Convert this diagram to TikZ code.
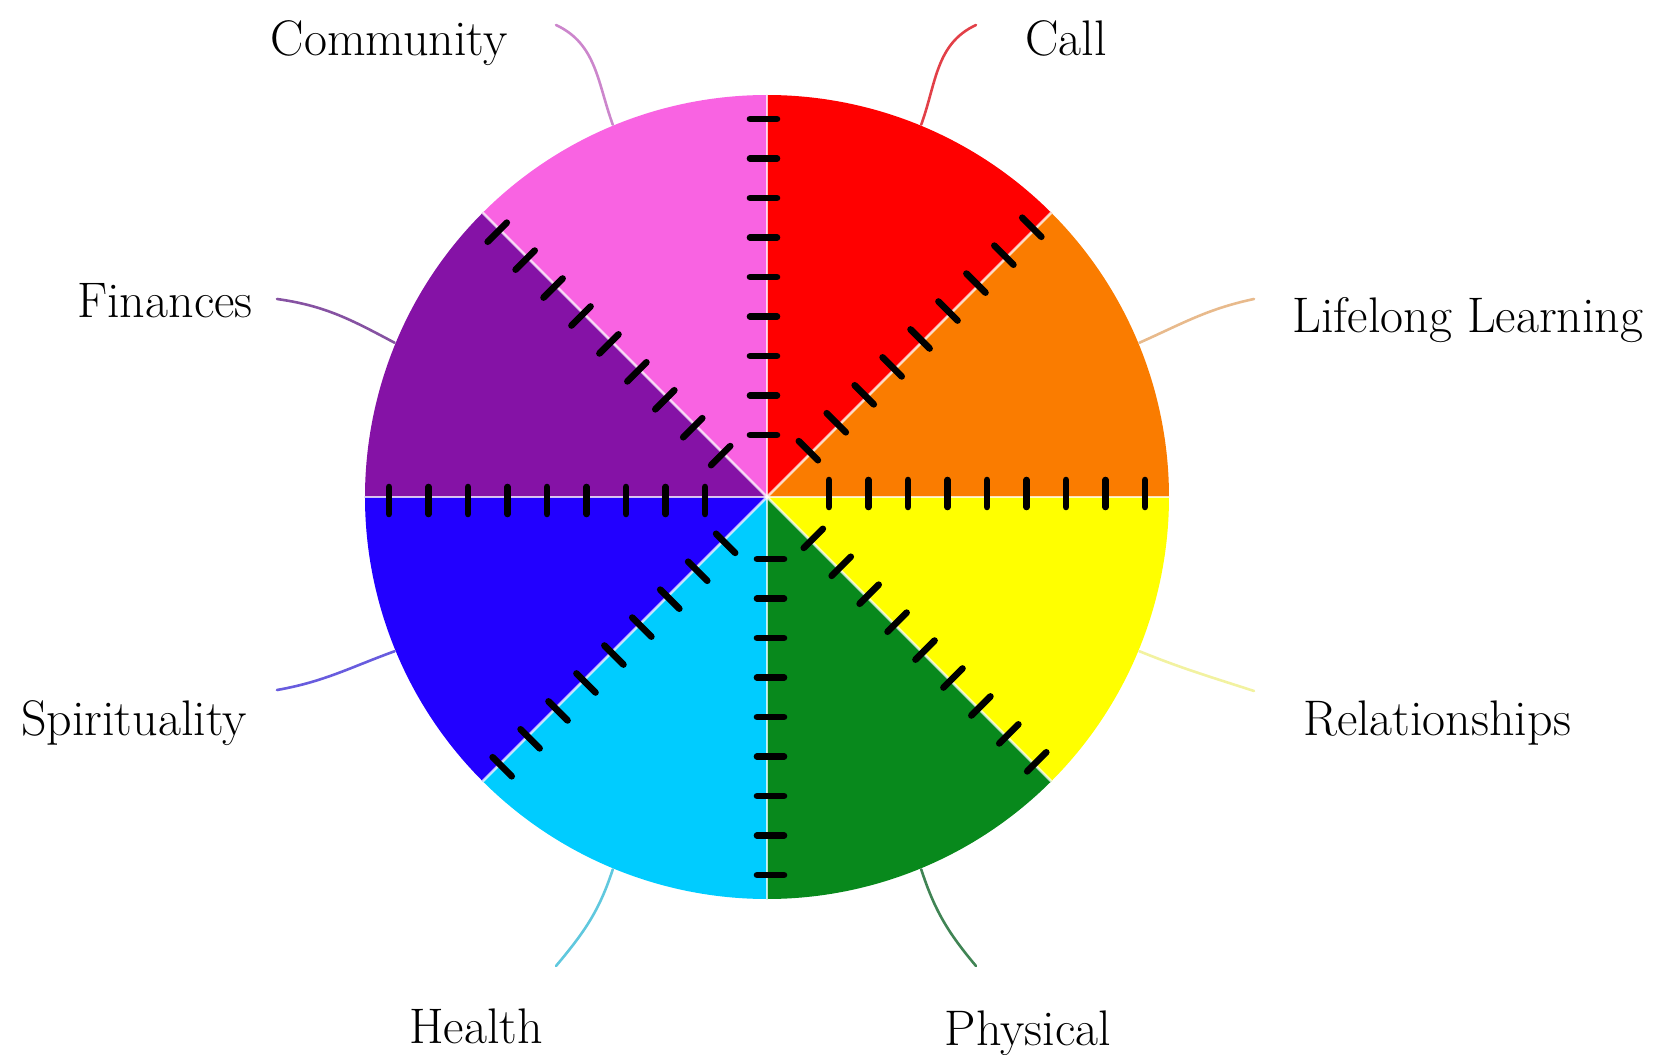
\documentclass[tikz,border=0pt]{standalone}
\usepackage{tikz}

\definecolor{callred}{RGB}{255,0,0}
\definecolor{learnorange}{RGB}{250,124,0}
\definecolor{relyellow}{RGB}{255,255,0}
\definecolor{physgreen}{RGB}{8,137,28}
\definecolor{healthcyan}{RGB}{0,204,255}
\definecolor{spiritblue}{RGB}{34,0,255}
\definecolor{finpurple}{RGB}{133,18,166}
\definecolor{commpink}{RGB}{249,99,226}
% lighter tints for the leader lines
\definecolor{callline}{RGB}{226,64,72}
\definecolor{learnline}{RGB}{232,186,140}
\definecolor{relline}{RGB}{242,242,160}
\definecolor{physline}{RGB}{64,132,84}
\definecolor{healthline}{RGB}{96,200,222}
\definecolor{spiritline}{RGB}{104,92,222}
\definecolor{finline}{RGB}{134,82,162}
\definecolor{commline}{RGB}{204,134,204}

\begin{document}
\begin{tikzpicture}[
  x=0.5pt,y=0.5pt,
  font=\fontsize{25}{30}\selectfont,
  areatext/.style={anchor=base,inner sep=0pt},
  leader/.style={line width=1.3pt,line cap=round},
  divider/.style={white,opacity=0.75,line width=1.3pt},
  tickmark/.style={black,line width=3.3pt,line cap=round}
]
\useasboundingbox (-767,-558) rectangle (899,497);

% wheel sectors
\foreach \ang/\col in {45/callred,0/learnorange,-45/relyellow,-90/physgreen,
                       -135/healthcyan,180/spiritblue,135/finpurple,90/commpink}
  \fill[\col] (0,0) -- (\ang:402) arc[start angle=\ang,end angle=\ang+45,radius=402] -- cycle;

% spokes with scale marks
\foreach \ang in {0,45,...,315} {
  \draw[divider] (0,0) -- (\ang:402);
  \begin{scope}[rotate=\ang]
    \foreach \k in {0,...,8}
      \draw[tickmark] ({62+39.5*\k},-10) -- ({62+39.5*\k},17);
  \end{scope}
}

% labels
\node[areatext] (community) at (-378,441.5) {Community};
\node[areatext] (call) at (299,441.5) {Call};
\node[areatext] (learning) at (701,164) {Lifelong Learning};
\node[areatext] (relations) at (670,-238) {Relationships};
\node[areatext] (physical) at (261,-548) {Physical};
\node[areatext] (health) at (-291,-546) {Health};
\node[areatext] (spirit) at (-633,-238) {Spirituality};
\node[areatext] (finances) at (-602,179) {Finances};

% leader lines
\coordinate (callA) at (67.5:403);     \coordinate (callB) at (209,472);
\coordinate (learnA) at (22.5:403);    \coordinate (learnB) at (487,198);
\coordinate (relA) at (-22.5:403);     \coordinate (relB) at (487,-194);
\coordinate (physA) at (-67.5:403);    \coordinate (physB) at (209,-469);
\coordinate (healthA) at (-112.5:403); \coordinate (healthB) at (-211,-469);
\coordinate (spiritA) at (-157.5:403); \coordinate (spiritB) at (-490,-193);
\coordinate (finA) at (157.5:403);     \coordinate (finB) at (-490,198);
\coordinate (commA) at (112.5:403);    \coordinate (commB) at (-211,472);

\draw[leader,callline] (callA) to[out=70,in=205] (callB);
\draw[leader,learnline] (learnA) to[out=24,in=192] (learnB);
\draw[leader,relline] (relA) to[out=-22,in=162] (relB);
\draw[leader,physline] (physA) to[out=-72,in=130] (physB);
\draw[leader,healthline] (healthA) to[out=-108,in=50] (healthB);
\draw[leader,spiritline] (spiritA) to[out=200,in=10] (spiritB);
\draw[leader,finline] (finA) to[out=152,in=-8] (finB);
\draw[leader,commline] (commA) to[out=110,in=-25] (commB);
\end{tikzpicture}
\end{document}
